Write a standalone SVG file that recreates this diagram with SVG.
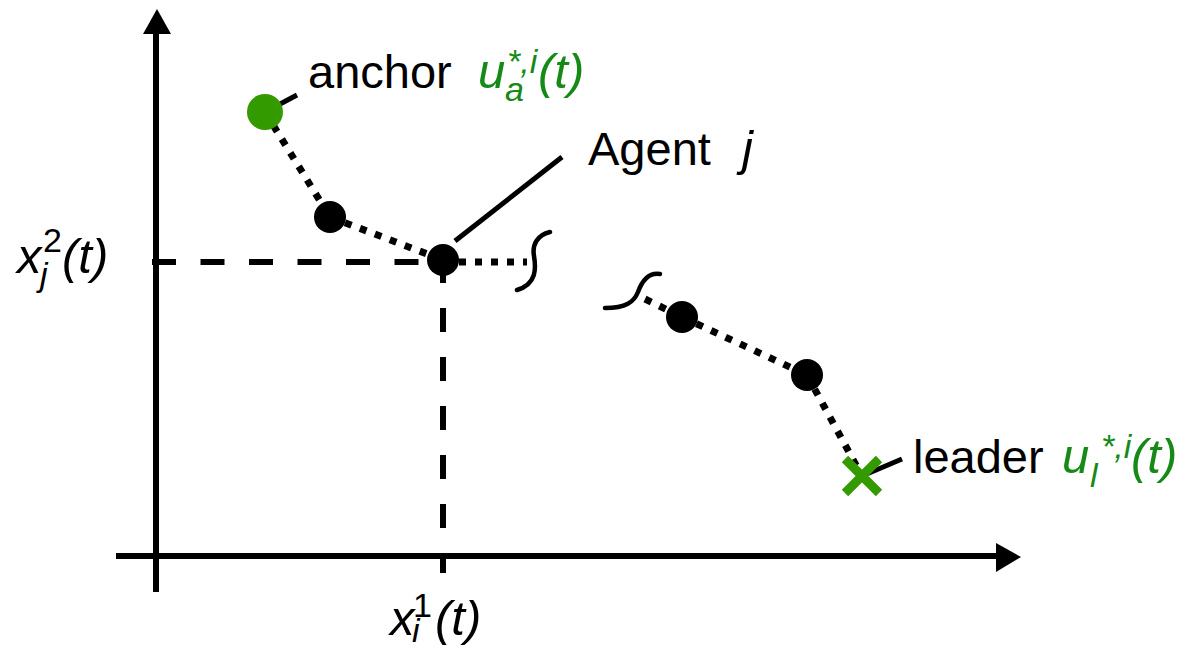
<svg xmlns="http://www.w3.org/2000/svg" width="1193" height="649" viewBox="0 0 1193 649">
<style>
.ax{stroke:#000;stroke-width:6;fill:none}
.dash{stroke:#000;stroke-width:6;fill:none}
.dot{stroke:#000;stroke-width:7;fill:none;stroke-dasharray:7 9}
.lead{stroke:#000;stroke-width:5;fill:none}
.brk{stroke:#000;stroke-width:4.5;fill:none;stroke-linecap:round}
.node{fill:#000}
.lbl{font-family:"Liberation Sans",Arial,sans-serif;font-size:47px;fill:#000}
.m{font-family:"Liberation Sans",Arial,sans-serif;font-style:italic;font-size:49px}
.s{font-size:34px}
.up{font-style:normal}
.g{fill:#168a16}
</style>
<rect width="1193" height="649" fill="#fff"/>
<g id="axes">
<line class="ax" x1="156" y1="592" x2="156" y2="30"/>
<polygon points="157,9 143,34 171,34" fill="#000"/>
<line class="ax" x1="116" y1="556" x2="1000" y2="556"/>
<polygon points="1021,557 996,543 996,572" fill="#000"/>
</g>
<g id="connectors">
<line class="dash" x1="152" y1="262" x2="443" y2="262" stroke-dasharray="24 24.5"/>
<line class="dash" x1="443" y1="259" x2="443" y2="573" stroke-dasharray="24 25"/>
<line class="dot" x1="265" y1="112" x2="330" y2="217"/>
<line class="dot" x1="330" y1="217" x2="443" y2="260"/>
<line class="dot" x1="443" y1="262" x2="527" y2="262"/>
<line class="dot" x1="645" y1="299" x2="682" y2="317"/>
<line class="dot" x1="682" y1="317" x2="807" y2="375"/>
<line class="dot" x1="807" y1="375" x2="862" y2="476"/>
<line class="lead" x1="265" y1="112" x2="297" y2="95"/>
<line class="lead" x1="455" y1="241" x2="562" y2="157"/>
<line class="lead" x1="862" y1="476" x2="902" y2="459"/>
<path class="brk" d="M550,232 C537,235 532,245 534,256 C536,268 537,284 517,290"/>
<path class="brk" d="M660,274 C648,272 642,281 638,292 C634,302 626,308 605,308"/>
</g>
<g id="anchor">
<circle cx="265" cy="112" r="18" fill="#339a00"/>
<text class="lbl" x="308" y="88">anchor</text>
<text class="m g"><tspan x="478" y="88">u</tspan><tspan class="s" x="505" y="101">a</tspan><tspan class="s" x="507" y="73">*,i</tspan><tspan x="538" y="88">(t)</tspan></text>
</g>
<g id="node2"><circle class="node" cx="330" cy="217" r="16"/></g>
<g id="agent">
<circle class="node" cx="443" cy="260" r="16"/>
<text class="lbl" x="588" y="165">Agent</text>
<text class="m" x="742" y="165" fill="#000">j</text>
</g>
<g id="node4"><circle class="node" cx="682" cy="317" r="16"/></g>
<g id="node5"><circle class="node" cx="807" cy="375" r="16"/></g>
<g id="leader">
<path d="M845,459 L879,493 M845,493 L879,459" stroke="#339a00" stroke-width="9" fill="none"/>
<text class="lbl" x="913" y="473">leader</text>
<text class="m g"><tspan x="1062" y="473">u</tspan><tspan class="s" x="1090" y="487">l</tspan><tspan class="s" x="1101" y="458">*,i</tspan><tspan x="1131" y="473">(t)</tspan></text>
</g>
<g id="ylabel">
<text class="m" fill="#000"><tspan x="17" y="273">x</tspan><tspan class="s" x="40" y="286">j</tspan><tspan class="s up" x="43" y="252">2</tspan><tspan x="62" y="273">(t)</tspan></text>
</g>
<g id="xlabel">
<text class="m" fill="#000"><tspan x="390" y="635">x</tspan><tspan class="s" x="412" y="642">i</tspan><tspan class="s up" x="413" y="617">1</tspan><tspan x="435" y="635">(t)</tspan></text>
</g>
</svg>
